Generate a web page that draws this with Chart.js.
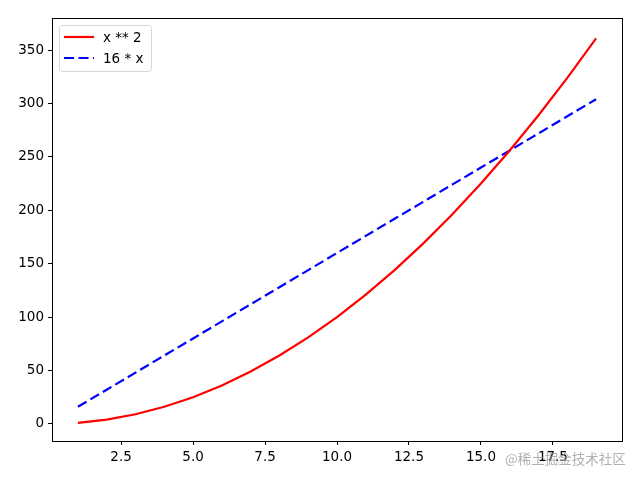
<!DOCTYPE html>
<html>
<head>
<meta charset="utf-8">
<script src="https://cdn.jsdelivr.net/npm/chart.js@4/dist/chart.umd.min.js"></script>
<style>
  html, body { margin: 0; padding: 0; background: #fff; }
  #wrap { position: relative; width: 640px; height: 480px; }
  #watermark {
    position: absolute; left: 505px; top: 448px;
    font-family: "Noto Sans CJK SC", sans-serif; font-size: 13.5px;
    color: rgba(150,150,150,0.75); white-space: nowrap;
  }
</style>
</head>
<body>
<div id="wrap">
  <canvas id="c" width="640" height="480"></canvas>
  <div id="watermark">@稀土掘金技术社区</div>
</div>
<script>
var xs = [1, 2, 3, 4, 5, 6, 7, 8, 9, 10, 11, 12, 13, 14, 15, 16, 17, 18, 19];
var squares = [1, 4, 9, 16, 25, 36, 49, 64, 81, 100, 121, 144, 169, 196, 225, 256, 289, 324, 361];
var linear = [16, 32, 48, 64, 80, 96, 112, 128, 144, 160, 176, 192, 208, 224, 240, 256, 272, 288, 304];
var xTicks = [2.5, 5.0, 7.5, 10.0, 12.5, 15.0, 17.5];
var yTicks = [0, 50, 100, 150, 200, 250, 300, 350];
var labels = ['x ** 2', '16 * x'];

var font = { family: 'DejaVu Sans', size: 13.5 };

function pts(ys){
  return xs.map(function(x, i){ return { x: x, y: ys[i] }; });
}

// frame around the axes, like matplotlib spines
var frame = {
  id: 'frame',
  afterDraw: function(chart){
    var a = chart.chartArea, ctx = chart.ctx;
    ctx.save();
    ctx.strokeStyle = '#000';
    ctx.lineWidth = 1;
    ctx.strokeRect(Math.round(a.left) + 0.5, Math.round(a.top) + 0.5,
      Math.round(a.right - a.left), Math.round(a.bottom - a.top));
    ctx.restore();
  }
};

// legend drawn inside the plot, upper left
var innerLegend = {
  id: 'innerLegend',
  afterDraw: function(chart){
    var a = chart.chartArea, ctx = chart.ctx;
    var x0 = a.left + 7, y0 = a.top + 7, w = 92, h = 46;
    ctx.save();
    ctx.fillStyle = 'rgba(255,255,255,0.8)';
    ctx.strokeStyle = '#d6d6d6';
    ctx.lineWidth = 1;
    ctx.beginPath();
    if (ctx.roundRect) ctx.roundRect(x0 + 0.5, y0 + 0.5, w, h, 3); else ctx.rect(x0 + 0.5, y0 + 0.5, w, h);
    ctx.fill();
    ctx.stroke();
    ctx.font = '13.5px "DejaVu Sans"';
    ctx.textBaseline = 'middle';
    chart.data.datasets.forEach(function(ds, i){
      var y = y0 + 12 + i * 21;
      ctx.strokeStyle = ds.borderColor;
      ctx.lineWidth = ds.borderWidth;
      ctx.setLineDash(ds.borderDash || []);
      ctx.beginPath();
      ctx.moveTo(x0 + 5, y);
      ctx.lineTo(x0 + 35, y);
      ctx.stroke();
      ctx.setLineDash([]);
      ctx.fillStyle = '#000';
      ctx.fillText(ds.label, x0 + 44, y + 1);
    });
    ctx.restore();
  }
};

new Chart(document.getElementById('c'), {
  type: 'line',
  data: {
    datasets: [{
      label: labels[0],
      data: pts(squares),
      borderColor: '#ff0000',
      borderWidth: 2.2,
      pointRadius: 0,
      fill: false,
      tension: 0
    }, {
      label: labels[1],
      data: pts(linear),
      borderColor: '#0000ff',
      borderWidth: 2.2,
      borderDash: [10, 4.5],
      pointRadius: 0,
      fill: false,
      tension: 0
    }]
  },
  options: {
    responsive: false,
    animation: false,
    layout: { padding: { top: 18, right: 18, left: 0, bottom: 0 } },
    plugins: { legend: { display: false }, tooltip: { enabled: false } },
    scales: {
      x: {
        type: 'linear',
        min: 0.1,
        max: 19.9,
        afterBuildTicks: function(scale){
          scale.ticks = xTicks.map(function(v){ return { value: v }; });
        },
        afterFit: function(scale){ scale.height = 39; },
        grid: { drawOnChartArea: false, color: '#000', tickLength: 4, tickWidth: 1 },
        border: { display: false },
        ticks: {
          color: '#000', font: font, padding: 4, maxRotation: 0, autoSkip: false,
          callback: function(v){ return Number(v).toFixed(1); }
        }
      },
      y: {
        min: -16,
        max: 380,
        afterBuildTicks: function(scale){
          scale.ticks = yTicks.map(function(v){ return { value: v }; });
        },
        afterFit: function(scale){ scale.width = 52; },
        grid: { drawOnChartArea: false, color: '#000', tickLength: 4, tickWidth: 1 },
        border: { display: false },
        ticks: { color: '#000', font: font, padding: 4, autoSkip: false }
      }
    }
  },
  plugins: [frame, innerLegend]
});
</script>
</body>
</html>
